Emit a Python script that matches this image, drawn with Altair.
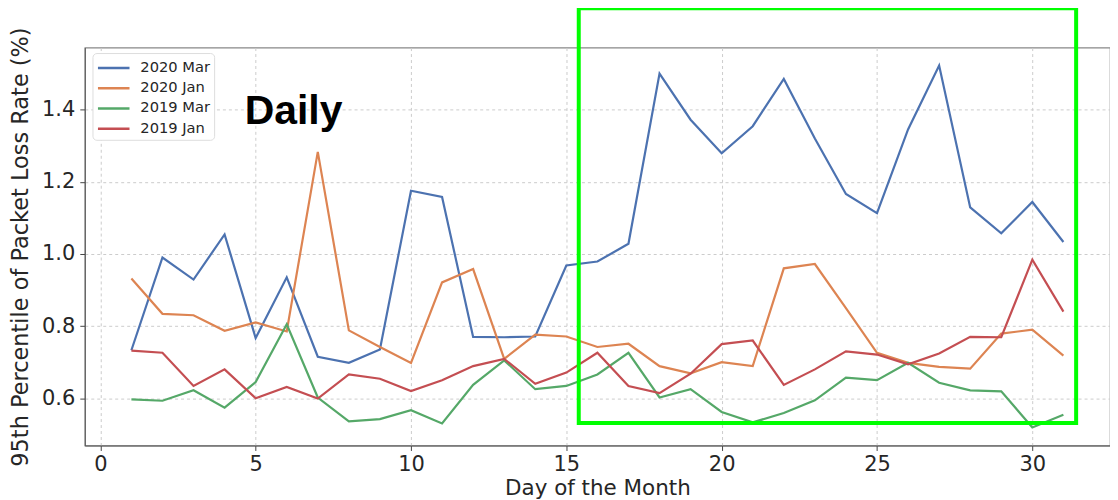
import altair as alt
import pandas as pd

days = list(range(1, 32))
series_names = ["2020 Mar", "2020 Jan", "2019 Mar", "2019 Jan"]
series_colors = ["#4C72B0", "#DD8452", "#55A868", "#C44E52"]

mar_2020 = [0.733, 0.990, 0.929, 1.054, 0.767, 0.935, 0.715, 0.698, 0.735, 1.175,
            1.158, 0.770, 0.769, 0.771, 0.968, 0.979, 1.028, 1.500, 1.372, 1.279,
            1.354, 1.485, 1.320, 1.166, 1.113, 1.345, 1.522, 1.129, 1.057, 1.144, 1.033]
jan_2020 = [0.932, 0.834, 0.830, 0.787, 0.810, 0.785, 1.283, 0.788, 0.742, 0.698,
            0.921, 0.958, 0.709, 0.776, 0.771, 0.742, 0.751, 0.689, 0.669, 0.700,
            0.689, 0.960, 0.972, 0.850, 0.726, 0.698, 0.687, 0.682, 0.779, 0.790, 0.718]
mar_2019 = [0.597, 0.593, 0.622, 0.574, 0.645, 0.805, 0.602, 0.536, 0.542, 0.567,
            0.530, 0.637, 0.705, 0.625, 0.634, 0.666, 0.726, 0.602, 0.625, 0.562,
            0.533, 0.559, 0.594, 0.657, 0.650, 0.698, 0.643, 0.622, 0.619, 0.519, 0.554]
jan_2019 = [0.732, 0.726, 0.634, 0.680, 0.600, 0.631, 0.599, 0.666, 0.654, 0.620,
            0.650, 0.689, 0.709, 0.640, 0.671, 0.726, 0.634, 0.614, 0.668, 0.750,
            0.760, 0.637, 0.680, 0.730, 0.721, 0.694, 0.724, 0.770, 0.769, 0.984, 0.840]

x_ticks = [0, 5, 10, 15, 20, 25, 30]
y_ticks = [0.6, 0.8, 1.0, 1.2, 1.4]
x_domain = [-0.5, 32.5]
y_domain = [0.469, 1.572]

label_text = ["Daily"]
label_x = [6.22]
label_y = [1.359]

box_x = [15.40]
box_x2 = [31.41]
box_y = [0.531]
box_y2 = [1.681]

rows = []
for name, vals in zip(series_names, [mar_2020, jan_2020, mar_2019, jan_2019]):
    for d, v in zip(days, vals):
        rows.append({"day": d, "value": v, "series": name})
df = pd.DataFrame(rows)

xs = alt.Scale(domain=x_domain, nice=False, zero=False)
ys = alt.Scale(domain=y_domain, nice=False, zero=False)

lines = alt.Chart(df).mark_line(strokeWidth=2.2).encode(
    x=alt.X("day:Q", scale=xs, title="Day of the Month",
            axis=alt.Axis(values=x_ticks, format="d", grid=True, gridDash=[3, 3],
                          gridColor="#cccccc", labelFont="DejaVu Sans", labelFontSize=21,
                          labelColor="#262626", titleFont="DejaVu Sans", titleFontSize=21.5,
                          titleColor="#262626", titleFontWeight="normal",
                          tickSize=5, tickColor="#444", labelPadding=3, titlePadding=3,
                          domainColor="#555", labelFlush=False)),
    y=alt.Y("value:Q", scale=ys, title="95th Percentile of Packet Loss Rate (%)",
            axis=alt.Axis(values=y_ticks, format=".1f", grid=True, gridDash=[3, 3],
                          gridColor="#cccccc", labelFont="DejaVu Sans", labelFontSize=21,
                          labelColor="#262626", titleFont="DejaVu Sans", titleFontSize=22.5,
                          titleColor="#262626", titleFontWeight="normal",
                          tickSize=5, tickColor="#444", labelPadding=5, titlePadding=9,
                          domainColor="#555", labelFlush=False)),
    color=alt.Color("series:N", sort=series_names,
                    scale=alt.Scale(domain=series_names, range=series_colors),
                    legend=alt.Legend(title=None, orient="none", legendX=7.7, legendY=5.5,
                                      symbolType="M-1,0H2.33", symbolSize=361,
                                      symbolStrokeWidth=2.5, labelFont="DejaVu Sans",
                                      labelFontSize=14.7, labelColor="#262626",
                                      rowPadding=2.3, padding=4, fillColor="white",
                                      strokeColor="#dddddd", cornerRadius=4,
                                      labelOffset=22)),
)

ldf = pd.DataFrame({"t": label_text, "x": label_x, "y": label_y})
label = alt.Chart(ldf).mark_text(font="Liberation Sans", fontWeight="bold", fontSize=41,
                                 align="center", baseline="alphabetic", color="black").encode(
    x=alt.X("x:Q", scale=xs), y=alt.Y("y:Q", scale=ys), text="t:N")

bdf = pd.DataFrame({"x": box_x, "x2": box_x2, "y": box_y, "y2": box_y2})
box = alt.Chart(bdf).mark_rect(fillOpacity=0, stroke="#00ff00", strokeWidth=4, clip=False).encode(
    x=alt.X("x:Q", scale=xs), x2="x2:Q", y=alt.Y("y:Q", scale=ys), y2="y2:Q")

chart = alt.layer(lines, label, box).properties(
    width=1028, height=399,
    autosize=alt.AutoSizeParams(type="none"),
    padding={"left": 77, "top": 39, "right": 0, "bottom": 54},
).configure_view(stroke="#888888", strokeWidth=1.2)

chart.save("out.html", embed_options={"renderer": "svg", "actions": False})
